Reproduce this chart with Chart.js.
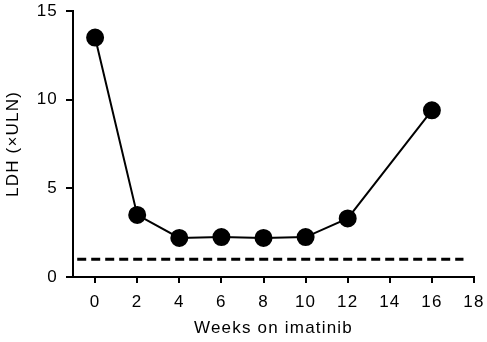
<!DOCTYPE html>
<html>
<head>
<meta charset="utf-8">
<script src="https://cdn.jsdelivr.net/npm/chart.js@4/dist/chart.umd.min.js"></script>
<style>
html,body{margin:0;padding:0;background:#fff;}
canvas{display:block;}
</style>
</head>
<body>
<canvas id="c" width="487" height="342"></canvas>
<script>
const weeks = [0, 2, 4, 6, 8, 10, 12, 16];
const ldh = [13.5, 3.5, 2.2, 2.25, 2.2, 2.25, 3.3, 9.4];
const ulnX = [-0.85, 17.5];
const ulnY = [1, 1];
const xTicks = [0, 2, 4, 6, 8, 10, 12, 14, 16, 18];
const yTicks = [0, 5, 10, 15];

const FONT = "'Liberation Sans', Arial, Helvetica, sans-serif";

const spacing = {
  id: 'spacing',
  beforeUpdate(chart) { chart.ctx.letterSpacing = '1.2px'; },
  beforeDraw(chart) { chart.ctx.letterSpacing = '1.2px'; }
};

new Chart(document.getElementById('c'), {
  type: 'line',
  plugins: [spacing],
  data: {
    datasets: [
      {
        data: weeks.map((w, i) => ({x: w, y: ldh[i]})),
        borderColor: '#000',
        backgroundColor: '#000',
        borderWidth: 2,
        pointRadius: 8,
        pointHoverRadius: 8,
        pointBackgroundColor: '#000',
        pointBorderColor: '#000',
        tension: 0,
        clip: false
      },
      {
        data: ulnX.map((x, i) => ({x: x, y: ulnY[i]})),
        borderColor: '#000',
        borderWidth: 3,
        borderDash: [9, 5],
        pointRadius: 0,
        tension: 0
      }
    ]
  },
  options: {
    responsive: false,
    animation: false,
    devicePixelRatio: 1,
    layout: {padding: {top: 11, right: 13, bottom: 3, left: 0}},
    plugins: {legend: {display: false}, tooltip: {enabled: false}},
    scales: {
      x: {
        type: 'linear',
        min: -1.05,
        max: 18,
        afterBuildTicks: s => { s.ticks = xTicks.map(v => ({value: v})); },
        afterFit: s => { s.height = 62; s.paddingLeft = 0; s.paddingRight = 0; },
        border: {display: true, color: '#000', width: 2},
        grid: {drawOnChartArea: false, drawTicks: true, tickLength: 6, color: '#000', lineWidth: 2},
        ticks: {color: '#000', font: {family: FONT, size: 17}, padding: 9, maxRotation: 0, autoSkip: false},
        title: {display: true, text: 'Weeks on imatinib', color: '#000', font: {family: FONT, size: 17}, padding: 0}
      },
      y: {
        type: 'linear',
        min: 0,
        max: 15,
        afterBuildTicks: s => { s.ticks = yTicks.map(v => ({value: v})); },
        afterFit: s => { s.width = 73; s.paddingTop = 0; s.paddingBottom = 0; },
        border: {display: true, color: '#000', width: 2},
        grid: {drawOnChartArea: false, drawTicks: true, tickLength: 7, color: '#000', lineWidth: 2},
        ticks: {color: '#000', font: {family: FONT, size: 17}, padding: 8},
        title: {display: true, text: 'LDH (\u00d7ULN)', color: '#000', font: {family: FONT, size: 17}, padding: {top: 3, bottom: 0}}
      }
    }
  }
});
</script>
</body>
</html>
